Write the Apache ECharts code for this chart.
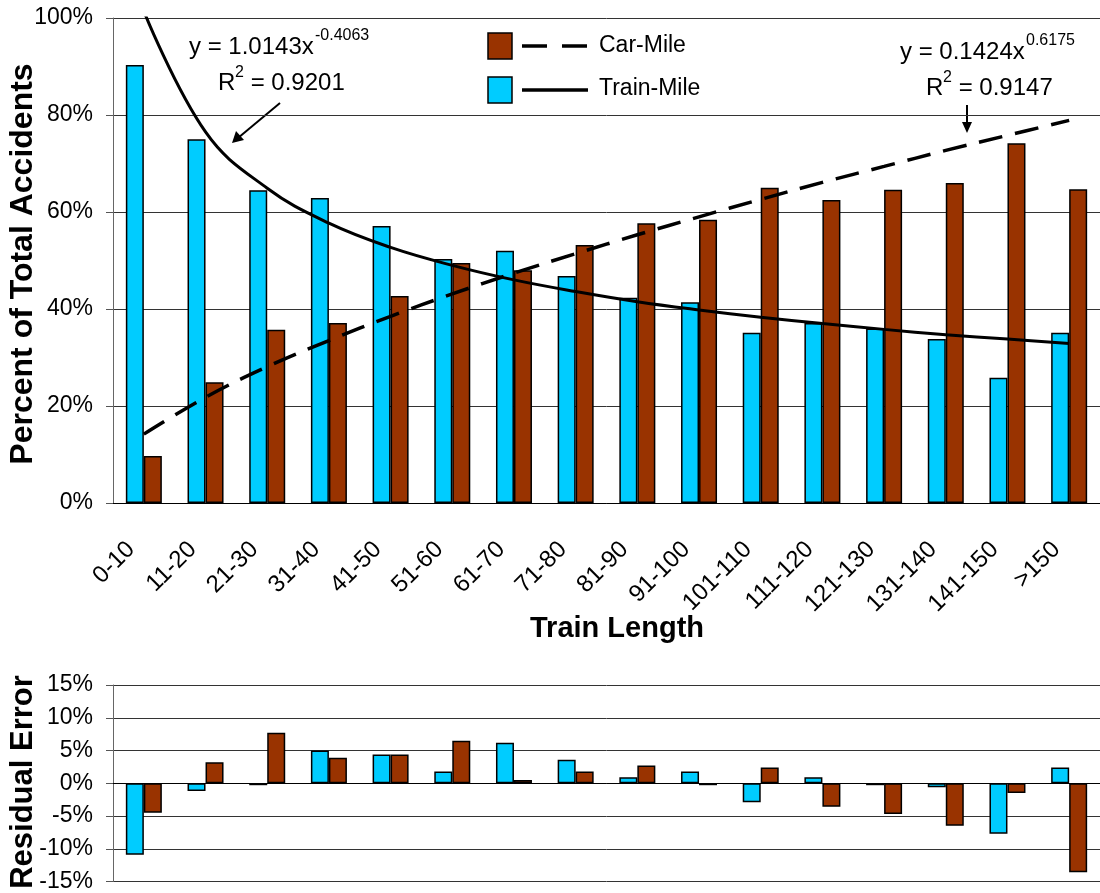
<!DOCTYPE html>
<html>
<head>
<meta charset="utf-8">
<script src="https://cdn.jsdelivr.net/npm/echarts@6/dist/echarts.min.js"></script>
<style>
  html, body { margin: 0; padding: 0; background: #fff; }
  #chart { width: 1100px; height: 893px; }
</style>
</head>
<body>
<div id="chart"></div>
<script>
// categories and values
const categories = ['0-10', '11-20', '21-30', '31-40', '41-50', '51-60', '61-70', '71-80',
  '81-90', '91-100', '101-110', '111-120', '121-130', '131-140', '141-150', '>150']
const trainMile = [90.3, 75.0, 64.5, 62.9, 57.1, 50.3, 52.0, 46.8, 42.3, 41.4, 35.1, 37.1, 36.0, 33.8, 25.8, 35.1]
const carMile = [9.7, 24.9, 35.7, 37.1, 42.7, 49.5, 48.0, 53.2, 57.7, 58.4, 65.0, 62.5, 64.6, 66.0, 74.2, 64.7]
// trend lines as read at each category centre
const trainTrend = [101.4, 76.5, 64.9, 57.7, 52.7, 49.0, 46.0, 43.6, 41.5, 39.8, 38.3, 37.0, 35.8, 34.7, 33.8, 32.9]
const carTrend = [14.2, 21.8, 28.1, 33.5, 38.5, 43.1, 47.4, 51.4, 55.3, 59.0, 62.6, 66.1, 69.4, 72.7, 75.8, 78.9]
// residuals
const trainResid = [-10.9, -1.2, -0.3, 5.0, 4.4, 1.8, 6.2, 3.6, 0.9, 1.8, -2.9, 0.9, -0.3, -0.6, -7.7, 2.4]
const carResid = [-4.5, 3.2, 7.7, 3.9, 4.4, 6.5, 0.5, 1.8, 2.7, -0.3, 2.4, -3.6, -4.7, -6.5, -1.5, -13.6]

const FONT = 'Liberation Sans, Arial, sans-serif'
const CYAN = '#00CCFF'
const BROWN = '#993300'

const barStyle = color => ({ color: color, borderColor: '#000', borderWidth: 1.5 })

const dom = document.getElementById('chart')
const chart = echarts.init(dom)

const option = {
  animation: false,
  textStyle: { fontFamily: FONT, color: '#000' },
  grid: [
    { left: 113, right: 0, top: 18, height: 485 },
    { left: 113, right: 0, top: 685, height: 198 }
  ],
  xAxis: [
    {
      type: 'category',
      gridIndex: 0,
      data: categories,
      axisLine: { lineStyle: { color: '#000', width: 1 } },
      axisTick: { length: 7, lineStyle: { color: '#555' } },
      axisLabel: { rotate: 45, fontSize: 24, margin: 30, padding: [0, 18, 0, 0], color: '#000', fontFamily: FONT, interval: 0 }
    },
    {
      type: 'category',
      gridIndex: 1,
      data: categories,
      axisLine: { onZero: true, lineStyle: { color: '#000', width: 1 } },
      axisTick: { length: 8, lineStyle: { color: '#555' } },
      axisLabel: { show: false }
    }
  ],
  yAxis: [
    {
      type: 'value',
      gridIndex: 0,
      min: 0,
      max: 100,
      interval: 20,
      axisLine: { show: true, lineStyle: { color: '#666' } },
      axisTick: { show: true, length: 7, lineStyle: { color: '#555' } },
      axisLabel: { formatter: '{value}%', fontSize: 23, margin: 20, color: '#000', fontFamily: FONT },
      splitLine: { lineStyle: { color: '#333' } }
    },
    {
      type: 'value',
      gridIndex: 1,
      min: -15,
      max: 15,
      interval: 5,
      axisLine: { show: true, lineStyle: { color: '#666' } },
      axisTick: { show: true, length: 7, lineStyle: { color: '#555' } },
      axisLabel: { formatter: '{value}%', fontSize: 23, margin: 20, color: '#000', fontFamily: FONT },
      splitLine: { lineStyle: { color: '#333' } }
    }
  ],
  series: [
    { name: 'Train-Mile', type: 'bar', xAxisIndex: 0, yAxisIndex: 0, data: trainMile,
      barWidth: 18, barGap: '0%', itemStyle: barStyle(CYAN) },
    { name: 'Car-Mile', type: 'bar', xAxisIndex: 0, yAxisIndex: 0, data: carMile,
      barWidth: 18, barGap: '0%', itemStyle: barStyle(BROWN) },
    { name: 'Train trend', type: 'line', xAxisIndex: 0, yAxisIndex: 0, data: trainTrend,
      smooth: 0.4, symbol: 'none', clip: true, z: 5,
      lineStyle: { color: '#000', width: 3 } },
    { name: 'Car trend', type: 'line', xAxisIndex: 0, yAxisIndex: 0, data: carTrend,
      smooth: 0.4, symbol: 'none', z: 5,
      lineStyle: { color: '#000', width: 3.5, type: [24, 13] } },
    { name: 'Train resid', type: 'bar', xAxisIndex: 1, yAxisIndex: 1, data: trainResid,
      barWidth: 18, barGap: '0%', itemStyle: barStyle(CYAN) },
    { name: 'Car resid', type: 'bar', xAxisIndex: 1, yAxisIndex: 1, data: carResid,
      barWidth: 18, barGap: '0%', itemStyle: barStyle(BROWN) }
  ],
  graphic: [
    // axis titles
    { type: 'text', x: 23, y: 264, rotation: Math.PI / 2,
      style: { text: 'Percent of Total Accidents', font: 'bold 32px ' + FONT, fill: '#000', align: 'center', verticalAlign: 'middle' } },
    { type: 'text', x: 617, y: 629,
      style: { text: 'Train Length', font: 'bold 29px ' + FONT, fill: '#000', align: 'center', verticalAlign: 'middle' } },
    { type: 'text', x: 23, y: 782, rotation: Math.PI / 2,
      style: { text: 'Residual Error', font: 'bold 31px ' + FONT, fill: '#000', align: 'center', verticalAlign: 'middle' } },
    // legend
    { type: 'rect', shape: { x: 488, y: 33, width: 24, height: 26 },
      style: { fill: BROWN, stroke: '#000', lineWidth: 1.5 } },
    { type: 'line', shape: { x1: 522, y1: 46, x2: 588, y2: 46 },
      style: { stroke: '#000', lineWidth: 3.5, lineDash: [25, 15] } },
    { type: 'text', x: 599, y: 46,
      style: { text: 'Car-Mile', font: '23px ' + FONT, fill: '#000', verticalAlign: 'middle' } },
    { type: 'rect', shape: { x: 488, y: 77, width: 24, height: 26 },
      style: { fill: CYAN, stroke: '#000', lineWidth: 1.5 } },
    { type: 'line', shape: { x1: 522, y1: 90, x2: 588, y2: 90 },
      style: { stroke: '#000', lineWidth: 3.5 } },
    { type: 'text', x: 599, y: 89,
      style: { text: 'Train-Mile', font: '23px ' + FONT, fill: '#000', verticalAlign: 'middle' } },
    // equation labels
    { type: 'text', x: 189, y: 47,
      style: { text: 'y = 1.0143x', font: '24px ' + FONT, fill: '#000', verticalAlign: 'middle' } },
    { type: 'text', x: 315, y: 36,
      style: { text: '-0.4063', font: '16px ' + FONT, fill: '#000', verticalAlign: 'middle' } },
    { type: 'text', x: 218, y: 83,
      style: { text: 'R', font: '24px ' + FONT, fill: '#000', verticalAlign: 'middle' } },
    { type: 'text', x: 235, y: 73,
      style: { text: '2', font: '16px ' + FONT, fill: '#000', verticalAlign: 'middle' } },
    { type: 'text', x: 244, y: 83,
      style: { text: ' = 0.9201', font: '24px ' + FONT, fill: '#000', verticalAlign: 'middle' } },
    { type: 'text', x: 900, y: 52,
      style: { text: 'y = 0.1424x', font: '24px ' + FONT, fill: '#000', verticalAlign: 'middle' } },
    { type: 'text', x: 1026, y: 41,
      style: { text: '0.6175', font: '16px ' + FONT, fill: '#000', verticalAlign: 'middle' } },
    { type: 'text', x: 926, y: 88,
      style: { text: 'R', font: '24px ' + FONT, fill: '#000', verticalAlign: 'middle' } },
    { type: 'text', x: 943, y: 78,
      style: { text: '2', font: '16px ' + FONT, fill: '#000', verticalAlign: 'middle' } },
    { type: 'text', x: 952, y: 88,
      style: { text: ' = 0.9147', font: '24px ' + FONT, fill: '#000', verticalAlign: 'middle' } },
    // arrows
    { type: 'line', shape: { x1: 280, y1: 103, x2: 238, y2: 138 },
      style: { stroke: '#000', lineWidth: 2 } },
    { type: 'polygon', shape: { points: [[232, 143], [236, 131], [244, 140]] },
      style: { fill: '#000' } },
    { type: 'line', shape: { x1: 967, y1: 105, x2: 967, y2: 126 },
      style: { stroke: '#000', lineWidth: 2 } },
    { type: 'polygon', shape: { points: [[967, 133], [962, 122], [972, 122]] },
      style: { fill: '#000' } }
  ]
}

chart.setOption(option)
window.addEventListener('resize', () => chart.resize())
</script>
</body>
</html>
